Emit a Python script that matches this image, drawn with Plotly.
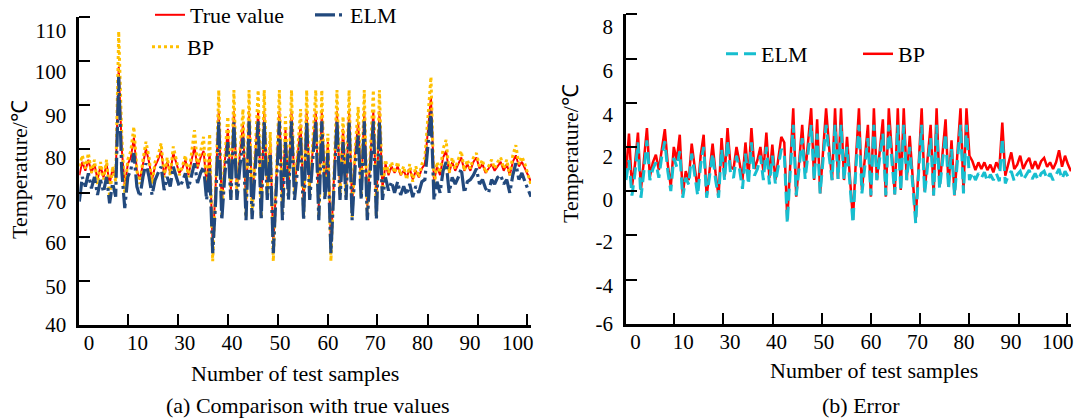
import plotly.graph_objects as go

# sample index along the test set (150 plotted samples)
sample_idx = list(range(150))

true_value = [
    74.0, 77.0, 75.0, 77.5, 74.5, 76.5, 73.0, 76.0, 73.5, 76.5,
    72.0, 75.5, 73.5, 98.6, 80.0, 71.5, 76.5, 78.0, 82.5, 75.0,
    73.0, 76.5, 80.0, 77.0, 73.0, 76.0, 77.5, 79.5, 74.0, 77.0,
    74.5, 79.0, 76.5, 74.5, 75.5, 77.5, 74.0, 77.0, 80.5, 75.5,
    78.0, 79.5, 72.0, 79.0, 58.0, 72.0, 88.5, 67.0, 77.0, 84.5,
    70.5, 88.5, 71.0, 79.0, 85.5, 67.0, 88.5, 67.5, 79.0, 88.5,
    67.0, 88.5, 71.0, 81.5, 58.0, 74.5, 88.5, 67.0, 84.5, 70.5,
    88.5, 71.0, 79.0, 85.5, 67.0, 88.5, 71.0, 80.0, 88.5, 67.0,
    88.5, 70.5, 81.5, 58.0, 74.5, 88.5, 71.0, 84.5, 70.5, 88.5,
    67.0, 79.0, 86.0, 70.5, 88.5, 67.0, 78.0, 88.5, 67.0, 88.5,
    71.0, 76.5, 74.0, 76.0, 74.5, 76.0, 74.0, 75.0, 73.5, 75.5,
    73.0, 75.0, 73.5, 75.5, 76.5, 84.0, 91.8, 72.5, 76.0, 74.0,
    78.0, 79.5, 74.5, 77.0, 75.0, 76.5, 78.0, 75.0, 76.5, 75.0,
    77.0, 78.0, 75.5, 76.5, 74.5, 75.5, 76.5, 75.0, 76.0, 77.0,
    75.0, 76.5, 74.0, 77.0, 78.5, 76.0, 77.0, 75.5, 74.0, 72.5,
]

elm_pred = [
    68.0, 73.6, 71.4, 74.4, 71.0, 73.6, 69.5, 72.9, 70.2, 73.6,
    67.6, 72.2, 69.1, 96.3, 75.0, 66.5, 73.6, 75.2, 79.0, 71.4,
    69.1, 73.6, 76.7, 73.6, 69.5, 72.9, 74.5, 75.9, 70.6, 73.6,
    71.4, 75.9, 73.6, 71.4, 72.5, 74.4, 71.0, 74.0, 76.7, 72.2,
    74.5, 75.9, 68.4, 75.5, 56.3, 68.4, 86.2, 63.8, 74.0, 81.5,
    68.4, 86.0, 68.4, 76.0, 82.5, 63.8, 86.2, 64.0, 76.0, 86.2,
    63.8, 86.2, 68.4, 79.0, 56.3, 71.0, 86.2, 63.8, 81.5, 68.4,
    86.2, 68.4, 76.0, 82.5, 63.8, 86.2, 68.4, 77.0, 86.2, 63.8,
    86.2, 68.4, 79.0, 56.3, 71.0, 86.2, 68.4, 81.5, 68.4, 86.2,
    63.8, 76.0, 83.0, 68.4, 86.2, 63.8, 75.0, 86.2, 64.0, 86.2,
    68.4, 73.5, 70.5, 72.5, 70.0, 72.5, 69.5, 71.5, 69.5, 72.0,
    69.0, 71.5, 70.0, 72.5, 73.0, 80.5, 88.5, 68.4, 72.5, 70.0,
    75.0, 77.0, 70.0, 73.5, 72.0, 73.5, 75.5, 70.0, 72.5, 73.0,
    74.0, 75.5, 72.0, 73.0, 71.0, 70.0, 73.0, 72.0, 73.5, 74.0,
    72.0, 73.0, 70.0, 74.0, 76.7, 73.0, 74.5, 72.5, 71.0, 69.1,
]

bp_pred = [
    76.0, 78.5, 75.5, 79.0, 74.5, 77.5, 72.0, 77.0, 73.0, 77.5,
    69.0, 76.0, 72.5, 106.6, 83.0, 70.0, 77.5, 79.5, 85.0, 75.0,
    72.0, 77.5, 81.6, 78.0, 72.0, 77.0, 78.5, 81.2, 73.5, 78.0,
    74.0, 80.5, 77.5, 74.0, 76.0, 78.5, 73.5, 78.5, 84.2, 76.0,
    79.5, 82.7, 70.5, 83.4, 54.5, 71.0, 93.3, 65.0, 78.0, 87.3,
    69.0, 93.3, 69.5, 80.0, 89.0, 64.5, 93.3, 65.0, 80.0, 93.3,
    64.5, 93.3, 69.5, 83.8, 54.5, 75.0, 93.3, 65.0, 87.3, 69.0,
    93.3, 69.5, 80.0, 89.0, 64.5, 93.3, 69.5, 81.0, 93.3, 64.5,
    93.3, 69.0, 83.4, 54.5, 75.0, 93.3, 69.5, 87.3, 69.0, 93.3,
    64.5, 80.0, 89.5, 69.0, 93.3, 64.5, 79.0, 93.3, 64.5, 93.3,
    70.0, 77.5, 74.5, 77.0, 74.5, 77.0, 74.0, 76.0, 73.0, 76.5,
    72.5, 76.0, 73.5, 76.5, 78.0, 87.0, 96.3, 71.0, 77.0, 74.5,
    80.0, 82.0, 74.5, 78.0, 75.5, 77.5, 79.5, 75.0, 77.5, 75.5,
    78.0, 79.0, 76.0, 77.5, 74.5, 76.0, 77.5, 75.5, 77.0, 78.0,
    75.5, 77.5, 74.0, 78.5, 80.8, 76.5, 78.2, 76.5, 74.0, 71.8,
]

elm_err = [
    0.5, 1.4, -0.2, 0.8, 2.2, -0.3, 0.9, 2.3, 0.5, 1.0,
    1.3, 0.6, 1.6, 2.25, 0.9, 0.0, 1.5, 1.1, 1.8, -0.3,
    0.6, 0.3, 1.7, 0.7, -0.2, 1.2, 2.0, -0.3, 0.7, 1.7,
    0.5, -0.3, 1.9, 0.5, 2.3, 0.8, 0.6, 1.6, 1.0, 0.1,
    1.7, 0.3, 2.2, 0.7, 1.0, 1.6, 0.5, 2.0, 0.3, 1.6,
    0.35, 1.1, 1.9, 1.7, -1.45, 0.9, 3.0, -0.2, 1.2, 2.4,
    0.55, 1.8, 3.0, 0.5, 2.6, -0.1, 1.4, 3.0, 1.6, 0.5,
    3.0, 0.55, 3.0, 0.5, 2.0, 0.4, -1.45, 1.1, 3.0, -0.1,
    1.2, 2.4, -0.2, 3.0, 0.5, 1.6, 2.6, -0.2, 3.0, 1.4,
    -0.15, 3.0, 0.0, 3.0, 0.5, 2.0, 0.4, -1.45, 0.9, 3.0,
    -0.1, 1.2, 2.4, -0.2, 3.0, 0.1, 1.3, 2.6, 0.1, 1.9,
    -0.2, 1.4, 3.0, -0.1, 3.0, 0.5, 0.85, 0.5, 0.8, 0.6,
    0.85, 0.45, 0.75, 0.5, 0.8, 0.45, 2.4, 0.35, 0.7, 0.9,
    0.45, 0.75, 0.9, 0.5, 0.75, 0.95, 0.55, 0.8, 0.5, 0.8,
    0.9, 0.55, 0.8, 0.5, 0.75, 1.0, 0.55, 0.9, 0.65, 0.45,
]

bp_err = [
    0.8, 2.6, 0.2, 1.2, 2.65, 0.05, 1.4, 2.85, 0.65, 1.3,
    1.65, 0.95, 1.9, 2.8, 1.2, 0.2, 2.0, 1.4, 2.55, -0.15,
    0.9, 0.5, 2.15, 1.0, 0.05, 1.6, 2.55, -0.25, 1.0, 2.15,
    0.8, -0.25, 2.4, 0.65, 2.85, 1.1, 1.0, 2.0, 1.3, 0.5,
    2.2, 0.6, 2.85, 1.0, 1.4, 2.0, 0.9, 2.65, 0.6, 2.1,
    0.5, 1.5, 2.45, 2.2, -1.3, 1.2, 3.75, -0.25, 1.5, 3.0,
    0.8, 2.2, 3.75, 0.5, 3.25, -0.1, 1.8, 3.75, 2.0, 0.5,
    3.75, 0.55, 3.75, 0.5, 2.45, 0.6, -1.3, 1.5, 3.75, 0.05,
    1.5, 3.0, -0.25, 3.75, 0.5, 2.0, 3.25, -0.25, 3.75, 1.8,
    -0.15, 3.75, 0.05, 3.75, 0.5, 2.5, 0.6, -1.3, 1.2, 3.75,
    0.0, 1.6, 3.0, -0.2, 3.75, 0.2, 1.7, 3.25, 0.2, 2.3,
    -0.2, 1.8, 3.75, 0.0, 3.75, 1.6, 1.35, 0.95, 1.3, 1.0,
    1.3, 0.95, 1.2, 0.85, 1.3, 1.0, 3.1, 0.7, 1.2, 1.75,
    1.0, 1.2, 1.6, 1.0, 1.3, 1.5, 1.0, 1.35, 1.0, 1.35,
    1.5, 1.1, 1.3, 1.0, 1.3, 1.85, 1.1, 1.6, 1.2, 0.9,
]

# axis labels as printed in the figure
x_tick_labels = ["0", "10", "30", "40", "50", "60", "70", "80", "90", "100"]
temp_tick_labels = ["40", "50", "60", "70", "80", "90", "100", "110"]
err_tick_labels = ["-6", "-4", "-2", "0", "2", "4", "6", "8"]

W, H = 1082, 420
FONT = "Liberation Serif, Times New Roman, serif"

# label/tick placement (labels sit slightly off the tick marks in the original)
x_label_pos = [3.2, 19.2, 34.8, 50.4, 66.2, 82.0, 97.6, 113.2, 128.9, 144.6]
x_tick_pos = [16.0, 32.4, 49.1, 65.7, 82.1, 98.3, 115.0, 131.5, 147.8]
temp_label_pos = [40, 48.7, 58.6, 68.0, 77.9, 87.4, 97.5, 106.7]
temp_tick_pos = [50, 60, 70, 80, 90, 100, 110]
err_label_pos = [-6, -4.29, -2.29, -0.40, 1.56, 3.48, 5.45, 7.44]
err_tick_pos = [-4, -2, 0, 2, 4, 6, 8]


def fx(p):
    return p / W


def fy(p):
    return 1 - p / H


fig = go.Figure()

# (a) comparison with true values
fig.add_trace(go.Scatter(x=sample_idx, y=true_value, mode="lines", name="True value",
                         line=dict(color="#FF0000", width=2),
                         xaxis="x", yaxis="y", legend="legend"))
fig.add_trace(go.Scatter(x=sample_idx, y=bp_pred, mode="lines", name="BP",
                         line=dict(color="#FFC000", width=3, dash="dot"),
                         xaxis="x", yaxis="y", legend="legend3"))
fig.add_trace(go.Scatter(x=sample_idx, y=elm_pred, mode="lines", name="ELM",
                         line=dict(color="#22497D", width=3.2, dash="20px,4px,3px,4px"),
                         xaxis="x", yaxis="y", legend="legend2"))

# (b) error
fig.add_trace(go.Scatter(x=sample_idx, y=bp_err, mode="lines", name="BP",
                         line=dict(color="#FF0000", width=2.5),
                         xaxis="x2", yaxis="y2", legend="legend5"))
fig.add_trace(go.Scatter(x=sample_idx, y=elm_err, mode="lines", name="ELM",
                         line=dict(color="#17BECF", width=3, dash="12px,6px"),
                         xaxis="x2", yaxis="y2", legend="legend4"))

axis_common = dict(showline=True, linecolor="black", linewidth=2.5, ticks="",
                   showgrid=False, zeroline=False, tickmode="array", automargin=False,
                   tickfont=dict(family=FONT, size=21, color="black"))
minor_common = dict(ticks="inside", ticklen=11, tickwidth=2, tickcolor="black", showgrid=False)

fig.update_layout(
    width=W, height=H, autosize=False, showlegend=True,
    margin=dict(l=0, r=0, t=0, b=0, autoexpand=False),
    paper_bgcolor="white", plot_bgcolor="white",
    font=dict(family=FONT, size=22, color="black"),
    xaxis=dict(domain=[fx(79.3), fx(531)], range=[0, 149], anchor="y",
               tickvals=x_label_pos, ticktext=x_tick_labels, ticklabelstandoff=-3,
               minor=dict(tickvals=x_tick_pos, **minor_common), **axis_common),
    yaxis=dict(domain=[fy(325), fy(16.5)], range=[40, 110], anchor="x",
               tickvals=temp_label_pos, ticktext=temp_tick_labels, ticklabelstandoff=6,
               minor=dict(tickvals=temp_tick_pos, **minor_common), **axis_common),
    xaxis2=dict(domain=[fx(626), fx(1071)], range=[0, 149], anchor="y2",
                tickvals=x_label_pos, ticktext=x_tick_labels, ticklabelstandoff=-3,
                minor=dict(tickvals=x_tick_pos, **minor_common), **axis_common),
    yaxis2=dict(domain=[fy(323.7), fy(14.3)], range=[-6, 8], anchor="x2",
                tickvals=err_label_pos, ticktext=err_tick_labels, ticklabelstandoff=6,
                minor=dict(tickvals=err_tick_pos, **minor_common), **axis_common),
)

legend_common = dict(xanchor="left", yanchor="middle", bgcolor="rgba(0,0,0,0)", borderwidth=0,
                     font=dict(family=FONT, size=22, color="black"))
fig.update_layout(
    legend=dict(x=fx(150), y=fy(15), **legend_common),
    legend2=dict(x=fx(310), y=fy(15), **legend_common),
    legend3=dict(x=fx(147), y=fy(47), **legend_common),
    legend4=dict(x=fx(721), y=fy(54), **legend_common),
    legend5=dict(x=fx(858), y=fy(54), **legend_common),
)

annotations = [
    dict(text="Number of test samples", x=fx(295), y=fy(373)),
    dict(text="Number of test samples", x=fx(874), y=fy(370)),
    dict(text="(a) Comparison with true values", x=fx(308), y=fy(405)),
    dict(text="(b) Error", x=fx(861), y=fy(405)),
    dict(text="Temperature/℃", x=fx(19), y=fy(170), textangle=-90),
    dict(text="Temperature/℃", x=fx(570), y=fy(154), textangle=-90),
]
for a in annotations:
    fig.add_annotation(xref="paper", yref="paper", showarrow=False,
                       xanchor="center", yanchor="middle",
                       font=dict(family=FONT, size=22, color="black"), **a)

# the page's default 8px body margin would offset the figure inside the window
fig.write_html("out.html", config={"displayModeBar": False},
               post_script="document.body.style.margin='0px';")
